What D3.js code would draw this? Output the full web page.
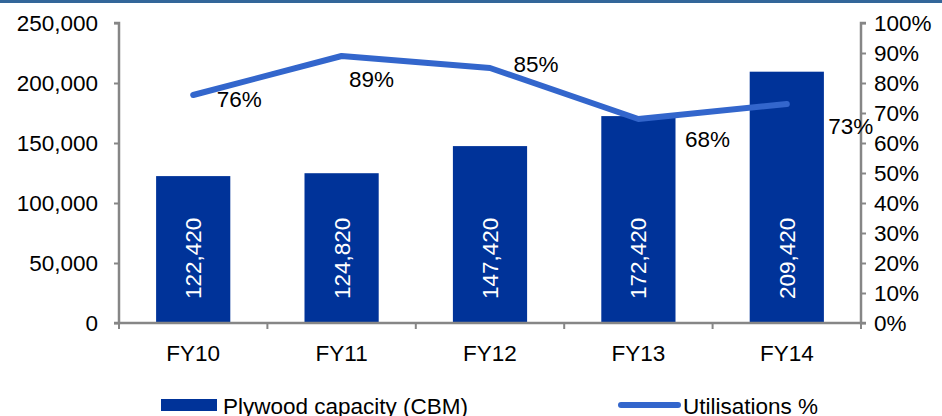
<!DOCTYPE html>
<html>
<head>
<meta charset="utf-8">
<script src="https://cdn.jsdelivr.net/npm/d3@7"></script>
<style>
  html, body { margin: 0; padding: 0; background: #fff; }
  svg { display: block; font-family: "Liberation Sans", Arial, sans-serif; }
</style>
</head>
<body>
<svg id="chart" width="942" height="416"></svg>
<script>
// Plywood capacity (CBM) and utilisation by fiscal year
const categories = ["FY10", "FY11", "FY12", "FY13", "FY14"];
const capacity = [122420, 124820, 147420, 172420, 209420];
const utilisation = [76, 89, 85, 68, 73];
const leftTicks = [0, 50000, 100000, 150000, 200000, 250000];
const rightTicks = [0, 10, 20, 30, 40, 50, 60, 70, 80, 90, 100];

// Hand-placed offsets of the utilisation labels from their points (px, center)
const utilLabelOffsets = [[46, 4], [30, 23], [46, -4], [69, 20], [64, 22]];

const svg = d3.select("#chart");
const W = 942, H = 416;
const plot = { left: 119, right: 861, top: 23, bottom: 323 };
const axisColor = "#868686";
const barColor = "#003399";
const lineColor = "#3366CC";
const fontSize = 22.5;

// top rule
svg.append("rect").attr("x", 0).attr("y", 0).attr("width", W).attr("height", 3).attr("fill", "#336699");

const x = d3.scaleBand().domain(categories).range([plot.left, plot.right]).paddingInner(0.5).paddingOuter(0.25);
const xPoint = c => x(c) + x.bandwidth() / 2;
const yL = d3.scaleLinear().domain([0, 250000]).range([plot.bottom, plot.top]);
const yR = d3.scaleLinear().domain([0, 100]).range([plot.bottom, plot.top]);

// bars
svg.append("g").selectAll("rect").data(categories).join("rect")
  .attr("x", c => x(c))
  .attr("y", (c, i) => yL(capacity[i]))
  .attr("width", x.bandwidth())
  .attr("height", (c, i) => yL(0) - yL(capacity[i]))
  .attr("fill", barColor);

// bar value labels, rotated, near the base
svg.append("g").selectAll("text").data(categories).join("text")
  .attr("transform", c => `translate(${xPoint(c) + 8},${yL(0) - 24}) rotate(-90)`)
  .attr("text-anchor", "start")
  .attr("fill", "#fff")
  .attr("font-size", fontSize)
  .text((c, i) => d3.format(",")(capacity[i]));

// left axis
const fmt = d3.format(",");
const leftAxis = d3.axisLeft(yL).tickValues(leftTicks).tickFormat(fmt).tickSize(5).tickPadding(16);
const gL = svg.append("g").attr("transform", `translate(${plot.left},0)`).call(leftAxis);

// right axis
const rightAxis = d3.axisRight(yR).tickValues(rightTicks).tickFormat(d => d + "%").tickSize(5).tickPadding(8);
const gR = svg.append("g").attr("transform", `translate(${plot.right},0)`).call(rightAxis);

// bottom axis: boundary ticks between categories
const boundaries = d3.range(categories.length + 1).map(i => plot.left + i * (plot.right - plot.left) / categories.length);
const gB = svg.append("g");
gB.append("line").attr("x1", plot.left).attr("x2", plot.right).attr("y1", plot.bottom).attr("y2", plot.bottom)
  .attr("stroke", axisColor).attr("stroke-width", 2.5);
gB.selectAll("line.tk").data(boundaries).join("line").attr("class", "tk")
  .attr("x1", d => d).attr("x2", d => d).attr("y1", plot.bottom).attr("y2", plot.bottom + 6)
  .attr("stroke", axisColor).attr("stroke-width", 2);
gB.selectAll("text").data(categories).join("text")
  .attr("x", c => xPoint(c)).attr("y", plot.bottom + 38)
  .attr("text-anchor", "middle").attr("font-size", fontSize).attr("fill", "#000")
  .text(c => c);

[gL, gR].forEach(g => {
  g.select(".domain").attr("stroke", axisColor).attr("stroke-width", 2.5);
  g.selectAll(".tick line").attr("stroke", axisColor).attr("stroke-width", 2);
  g.selectAll(".tick text").attr("font-size", fontSize).attr("fill", "#000")
    .attr("font-family", "Liberation Sans, Arial, sans-serif");
});
gL.select(".domain").attr("d", `M-5,${plot.top}H0V${plot.bottom}H-5`);
gR.select(".domain").attr("d", `M5,${plot.top}H0V${plot.bottom}H5`);

// utilisation line
const line = d3.line().x((d, i) => xPoint(categories[i])).y(d => yR(d));
svg.append("path").datum(utilisation).attr("d", line)
  .attr("fill", "none").attr("stroke", lineColor).attr("stroke-width", 6)
  .attr("stroke-linecap", "round").attr("stroke-linejoin", "round");

// utilisation labels
svg.append("g").selectAll("text").data(utilisation).join("text")
  .attr("x", (d, i) => xPoint(categories[i]) + utilLabelOffsets[i][0])
  .attr("y", (d, i) => yR(d) + utilLabelOffsets[i][1])
  .attr("dy", "0.35em")
  .attr("text-anchor", "middle").attr("font-size", fontSize).attr("fill", "#000")
  .text(d => d + "%");

// legend (sits at the bottom edge of the figure)
const lg = svg.append("g");
lg.append("rect").attr("x", 161).attr("y", 399).attr("width", 56).attr("height", 12).attr("fill", barColor);
lg.append("text").attr("x", 223).attr("y", 414).attr("font-size", fontSize).attr("fill", "#000").text("Plywood capacity (CBM)");
lg.append("line").attr("x1", 621).attr("x2", 678).attr("y1", 405).attr("y2", 405)
  .attr("stroke", lineColor).attr("stroke-width", 6).attr("stroke-linecap", "round");
lg.append("text").attr("x", 683).attr("y", 414).attr("font-size", fontSize).attr("fill", "#000").text("Utilisations %");
</script>
</body>
</html>
